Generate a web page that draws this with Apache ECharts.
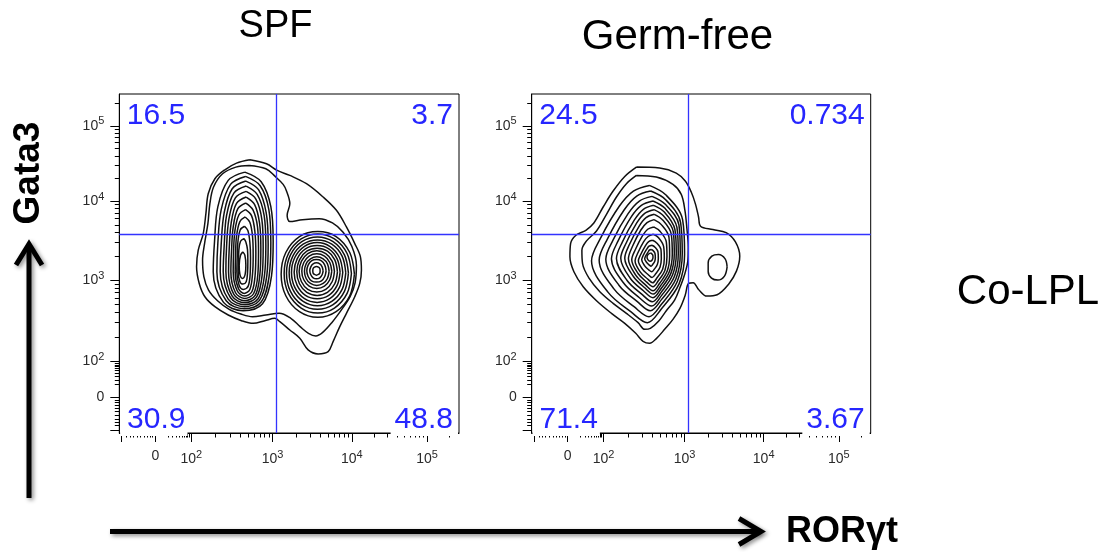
<!DOCTYPE html>
<html>
<head>
<meta charset="utf-8">
<script src="https://cdn.jsdelivr.net/npm/echarts@6/dist/echarts.min.js"></script>
<style>
  html, body { margin: 0; padding: 0; background: #fff; }
  #chart { width: 1104px; height: 552px; }
</style>
</head>
<body>
<div id="chart"></div>
<script>
// axis scale is in display channels (0..1020), the biexponential display of the cytometer
const majorTicks = [7, 108, 216, 460, 698, 924]
const labelTicks = [108, 216, 460, 698, 924]
const labelText = ['0', '10^2', '10^3', '10^4', '10^5']
const linearTicks = [22, 32, 42, 54, 64, 74, 84, 92, 100, 147, 160, 170, 180, 188, 194, 200, 205, 210]

const panelTitles = ['SPF', 'Germ-free']
const gateX = 470
const gateY = 598
// quadrant percentages: upper-left, upper-right, lower-left, lower-right
const spfQuad = ['16.5', '3.7', '30.9', '48.8']
const gfQuad = ['24.5', '0.734', '71.4', '3.67']

// SPF contours (x = RORγt channel, y = Gata3 channel)
const spfOuter = [[392,822],[442,810],[474,790],[512,775],[562,750],[612,710],[652,670],[682,620],[707,570],[724,530],[727,490],[722,450],[707,410],[682,360],[662,320],[642,275],[627,245],[597,238],[567,250],[542,285],[512,310],[482,335],[467,345],[437,338],[402,330],[367,338],[327,355],[287,380],[257,410],[240,450],[232,500],[237,550],[252,600],[260,660],[267,720],[287,765],[317,792],[352,812]]
const spfRing2 = [[390,805],[440,795],[468,772],[492,748],[502,728],[512,690],[504,655],[512,636],[550,642],[600,645],[640,632],[672,604],[698,562],[712,505],[708,452],[693,410],[668,372],[638,332],[610,302],[590,292],[568,300],[543,320],[515,345],[480,360],[440,355],[400,350],[365,358],[330,372],[295,398],[268,430],[254,470],[250,520],[256,570],[266,630],[272,690],[283,740],[310,780],[350,800]]
const spfLeftLobe = [
  [[377,785],[426,756],[455,681],[462,577],[457,472],[430,389],[372,368],[313,393],[282,485],[286,577],[296,681],[327,760]],
  [[379,772],[423,744],[449,672],[455,573],[450,473],[426,394],[374,374],[321,398],[293,485],[296,573],[306,672],[334,748]],
  [[380,758],[418,732],[441,663],[447,569],[443,474],[421,399],[375,380],[327,403],[303,486],[306,569],[315,663],[339,735]],
  [[381,743],[414,718],[435,654],[440,564],[436,475],[417,404],[376,386],[334,407],[312,486],[315,564],[322,654],[344,722]],
  [[381,727],[410,704],[428,643],[432,559],[429,476],[412,409],[376,392],[339,412],[320,486],[322,559],[329,643],[348,707]],
  [[381,710],[406,688],[421,632],[425,554],[422,476],[408,414],[376,398],[344,417],[328,485],[330,554],[336,632],[352,691]],
  [[380,692],[401,672],[415,620],[418,548],[416,477],[403,419],[376,405],[349,422],[335,485],[337,548],[342,620],[356,675]],
  [[379,672],[397,654],[407,607],[410,542],[408,477],[398,425],[376,412],[354,428],[342,485],[343,542],[347,607],[359,656]],
  [[378,650],[392,634],[400,592],[402,535],[400,478],[392,432],[375,420],[358,434],[348,484],[349,535],[352,592],[362,636]],
  [[376,622],[386,609],[392,574],[394,527],[393,480],[387,442],[373,432],[360,444],[353,485],[354,527],[356,574],[363,611]],
  [[374,585],[380,575],[385,551],[386,516],[385,482],[381,455],[371,448],[362,456],[357,486],[358,516],[359,551],[364,577]],
  [[371,545],[377,535],[380,505],[378,478],[370,465],[362,478],[360,505],[364,535]]
]
const spfRightLobe = [
  [[706,478],[692,543],[651,591],[596,606],[541,591],[500,543],[486,478],[500,413],[541,365],[596,348],[651,365],[692,413]],
  [[697,480],[684,540],[646,584],[596,599],[546,584],[508,540],[495,480],[508,420],[546,376],[596,361],[646,376],[684,420]],
  [[688,481],[676,536],[642,576],[595,590],[548,576],[514,536],[502,481],[514,426],[548,386],[595,372],[642,386],[676,426]],
  [[680,482],[669,532],[638,568],[595,581],[552,568],[521,532],[510,482],[521,432],[552,396],[595,383],[638,396],[669,432]],
  [[671,483],[661,528],[633,561],[594,573],[555,561],[527,528],[517,483],[527,438],[555,405],[594,393],[633,405],[661,438]],
  [[663,484],[654,524],[629,554],[594,564],[559,554],[534,524],[525,484],[534,444],[559,414],[594,404],[629,414],[654,444]],
  [[655,485],[647,521],[625,547],[594,556],[563,547],[541,521],[533,485],[541,449],[563,423],[594,414],[625,423],[647,449]],
  [[646,486],[639,517],[620,540],[593,548],[566,540],[547,517],[540,486],[547,455],[566,432],[593,424],[620,432],[639,455]],
  [[638,487],[632,513],[616,532],[593,539],[570,532],[554,513],[548,487],[554,461],[570,442],[593,435],[616,442],[632,461]],
  [[630,487],[625,509],[612,524],[593,530],[574,524],[561,509],[556,487],[561,465],[574,450],[593,444],[612,450],[625,465]],
  [[621,488],[617,505],[607,518],[592,522],[577,518],[567,505],[563,488],[567,471],[577,458],[592,454],[607,458],[617,471]],
  [[612,488],[609,500],[602,509],[592,512],[582,509],[575,500],[572,488],[575,476],[582,467],[592,464],[602,467],[609,476]],
  [[603,488],[602,495],[598,499],[592,501],[586,499],[582,495],[581,488],[582,481],[586,477],[592,475],[598,477],[602,481]]
]

// Germ-free contours
const gfOuter = [[315,800],[385,797],[435,782],[462,758],[480,725],[493,688],[502,650],[508,622],[545,612],[585,603],[613,575],[626,532],[616,487],[592,447],[558,416],[527,412],[502,432],[486,452],[472,450],[462,415],[446,375],[425,342],[400,312],[375,284],[355,270],[335,276],[313,300],[280,330],[240,360],[195,398],[155,440],[127,485],[115,530],[117,570],[133,595],[163,610],[187,632],[215,680],[245,728],[280,772]]
const gfRing2 = [[315,775],[375,770],[425,748],[450,718],[461,670],[467,615],[471,560],[470,520],[461,480],[447,440],[430,400],[405,368],[383,338],[357,315],[340,312],[320,332],[285,360],[245,390],[205,425],[173,465],[153,510],[151,550],[165,578],[195,608],[225,658],[255,710],[285,750]]
const gfIsland = [[588,500],[582,524],[562,537],[542,532],[531,512],[531,486],[541,466],[560,460],[580,472]]
const gfCore = [
  [[354,745],[404,716],[454,642],[460,538],[443,448],[390,373],[348,332],[298,365],[230,423],[180,518],[208,588],[264,683],[306,728]],
  [[358,728],[403,702],[448,633],[453,539],[438,456],[391,388],[353,350],[308,380],[248,433],[203,520],[228,584],[278,671],[316,713]],
  [[362,712],[402,688],[443,626],[447,540],[434,464],[391,402],[357,368],[317,396],[263,444],[223,523],[245,581],[290,660],[324,698]],
  [[365,698],[401,676],[437,619],[441,540],[429,470],[391,414],[361,382],[324,407],[276,452],[240,524],[260,578],[300,651],[330,685]],
  [[367,685],[399,665],[431,612],[435,540],[424,476],[390,424],[363,395],[331,418],[287,459],[255,525],[273,575],[309,641],[336,673]],
  [[368,672],[397,653],[426,606],[429,540],[419,481],[389,434],[365,407],[336,428],[297,465],[268,526],[284,571],[316,632],[340,661]],
  [[369,658],[394,641],[420,598],[423,538],[414,485],[387,442],[366,418],[340,437],[306,471],[280,526],[294,567],[323,622],[344,648]],
  [[368,642],[390,627],[413,589],[415,535],[408,488],[384,449],[365,428],[343,445],[313,475],[291,524],[303,561],[328,610],[347,633]],
  [[367,620],[386,607],[405,575],[407,530],[401,490],[381,458],[365,440],[346,454],[320,480],[301,521],[312,552],[333,593],[349,613]],
  [[366,598],[381,588],[397,561],[399,525],[394,493],[377,467],[364,452],[348,464],[327,484],[311,518],[320,543],[337,576],[351,592]],
  [[364,580],[376,572],[389,552],[390,524],[386,499],[373,479],[362,468],[350,477],[333,493],[321,518],[328,537],[342,563],[352,576]],
  [[362,565],[371,559],[380,545],[381,525],[378,507],[369,493],[361,485],[352,491],[340,503],[331,521],[336,535],[346,553],[353,562]],
  [[360,552],[366,548],[371,540],[372,527],[370,516],[364,507],[359,502],[353,506],[346,513],[340,524],[343,533],[350,544],[354,550]],
  [[358,542],[364,536],[365,529],[362,520],[356,517],[350,521],[347,529],[350,537]]
]

const FONT = '"Liberation Sans", Arial, Helvetica, sans-serif'
const AXIS_MAX = 1020
const panels = [
  { left: 119.3, top: 94, width: 339.7, height: 339, quad: spfQuad, title: panelTitles[0], titleSize: 38, titleX: 275.5, titleY: 27, contours: [spfOuter, spfRing2].concat(spfLeftLobe, spfRightLobe) },
  { left: 531.7, top: 94, width: 339, height: 339, quad: gfQuad, title: panelTitles[1], titleSize: 42, titleX: 677.5, titleY: 37, contours: [gfOuter, gfRing2, gfIsland].concat(gfCore) }
]

// minor ticks: linear region near zero plus log spacing inside each decade
const minorTicks = linearTicks.slice()
for (let i = 1; i < labelTicks.length; i++) {
  const a = labelTicks[i]
  const span = i < labelTicks.length - 1 ? labelTicks[i + 1] - a : a - labelTicks[i - 1]
  for (let k = 2; k <= 9; k++) {
    const v = a + span * Math.log10(k)
    if (v < AXIS_MAX) minorTicks.push(Math.round(v * 10) / 10)
  }
}

const tickRich = {
  b: { fontSize: 14, color: '#2a2a2a', fontFamily: FONT },
  s: { fontSize: 11, color: '#2a2a2a', fontFamily: FONT, padding: [0, 0, 9, 0] }
}
const tickFmt = v => {
  const i = labelTicks.indexOf(v)
  if (i < 0) return ''
  const t = labelText[i]
  if (t.indexOf('^') < 0) return '{b|' + t + '}'
  const parts = t.split('^')
  return '{b|' + parts[0] + '}{s|' + parts[1] + '}'
}

const makeAxis = (dim, gridIndex, major) => {
  const base = {
    type: 'value',
    gridIndex: gridIndex,
    min: 0,
    max: AXIS_MAX,
    position: dim === 'x' ? 'bottom' : 'left',
    splitLine: { show: false },
    silent: true
  }
  if (major) {
    return Object.assign(base, {
      axisLine: { show: true, onZero: false, lineStyle: { color: '#000', width: 1 } },
      axisTick: { show: true, customValues: majorTicks, length: 9, lineStyle: { color: '#000', width: 1 } },
      axisLabel: {
        show: true,
        customValues: labelTicks,
        formatter: tickFmt,
        rich: tickRich,
        margin: dim === 'x' ? 16 : 15
      }
    })
  }
  return Object.assign(base, {
    axisLine: { show: false, onZero: false },
    axisTick: { show: true, customValues: minorTicks, length: 4.5, lineStyle: { color: '#000', width: 1 } },
    axisLabel: { show: false }
  })
}

const grids = []
const xAxes = []
const yAxes = []
const series = []
const graphics = []

panels.forEach((p, gi) => {
  grids.push({ left: p.left, top: p.top, width: p.width, height: p.height, show: true, borderColor: '#000', borderWidth: 1, backgroundColor: 'transparent' })
  xAxes.push(makeAxis('x', gi, true), makeAxis('x', gi, false))
  yAxes.push(makeAxis('y', gi, true), makeAxis('y', gi, false))

  p.contours.forEach(ring => {
    series.push({
      type: 'line',
      xAxisIndex: gi * 2,
      yAxisIndex: gi * 2,
      data: ring.concat([ring[0]]),
      smooth: 0.35,
      symbol: 'none',
      showSymbol: false,
      silent: true,
      animation: false,
      lineStyle: { color: '#111', width: 1.5 },
      z: 2
    })
  })

  // quadrant gates
  series.push({
    type: 'line',
    xAxisIndex: gi * 2,
    yAxisIndex: gi * 2,
    data: [],
    z: 5,
    silent: true,
    markLine: {
      silent: true,
      symbol: ['none', 'none'],
      animation: false,
      label: { show: false },
      lineStyle: { color: '#3333ff', width: 1.3, type: 'solid' },
      data: [{ xAxis: gateX }, { yAxis: gateY }]
    }
  })

  const right = p.left + p.width
  const bottom = p.top + p.height
  const qFont = '30px ' + FONT
  const qColor = '#2626ff'
  const quadPos = [
    { x: p.left + 7.5, y: p.top + 22, align: 'left', pad: [0, 0, 0, 0] },
    { x: right - 6, y: p.top + 22, align: 'right', pad: [0, 0, 0, 0] },
    { x: p.left + 0.8, y: bottom - 13.5, align: 'left', pad: [0, 2, 3, 7] },
    { x: right - 1, y: bottom - 13.5, align: 'right', pad: [0, 5, 3, 4] }
  ]
  quadPos.forEach((q, qi) => {
    graphics.push({
      type: 'text',
      x: q.x,
      y: q.y,
      z: 100,
      silent: true,
      style: {
        text: p.quad[qi],
        font: qFont,
        fill: qColor,
        align: q.align,
        verticalAlign: 'middle',
        textAlign: q.align,
        textVerticalAlign: 'middle',
        backgroundColor: '#fff',
        padding: q.pad
      }
    })
  })

  graphics.push({
    type: 'text', x: p.titleX, y: p.titleY, silent: true,
    style: { text: p.title, font: p.titleSize + 'px ' + FONT, fill: '#000', align: 'center', verticalAlign: 'middle', textAlign: 'center', textVerticalAlign: 'middle' }
  })
})

const shadow = { shadowBlur: 4, shadowColor: 'rgba(0,0,0,0.45)', shadowOffsetX: 2, shadowOffsetY: 2 }

graphics.push(
  {
    type: 'text', x: 1028, y: 292, silent: true,
    style: { text: 'Co-LPL', font: '42px ' + FONT, fill: '#000', align: 'center', verticalAlign: 'middle', textAlign: 'center', textVerticalAlign: 'middle' }
  },
  {
    type: 'text', x: 29, y: 173, rotation: Math.PI / 2, silent: true,
    style: { text: 'Gata3', font: 'bold 37px ' + FONT, fill: '#000', align: 'center', verticalAlign: 'middle', textAlign: 'center', textVerticalAlign: 'middle' }
  },
  {
    type: 'text', x: 842, y: 532, silent: true,
    style: { text: 'RORγt', font: 'bold 36px ' + FONT, fill: '#000', align: 'center', verticalAlign: 'middle', textAlign: 'center', textVerticalAlign: 'middle' }
  },
  {
    type: 'line', silent: true,
    shape: { x1: 29, y1: 498, x2: 29, y2: 247 },
    style: Object.assign({ stroke: '#000', lineWidth: 5 }, shadow)
  },
  {
    type: 'polyline', silent: true,
    shape: { points: [[16, 265], [29, 244], [42, 265]] },
    style: Object.assign({ stroke: '#000', fill: null, lineWidth: 5, lineJoin: 'miter' }, shadow)
  },
  {
    type: 'line', silent: true,
    shape: { x1: 110, y1: 531.5, x2: 759, y2: 531.5 },
    style: Object.assign({ stroke: '#000', lineWidth: 5 }, shadow)
  },
  {
    type: 'polyline', silent: true,
    shape: { points: [[739, 518.5], [761, 531.5], [739, 544.5]] },
    style: Object.assign({ stroke: '#000', fill: null, lineWidth: 5, lineJoin: 'miter' }, shadow)
  }
)

const chart = echarts.init(document.getElementById('chart'), null, { renderer: 'canvas' })
chart.setOption({
  animation: false,
  backgroundColor: '#fff',
  textStyle: { fontFamily: FONT },
  grid: grids,
  xAxis: xAxes,
  yAxis: yAxes,
  series: series,
  graphic: { elements: graphics }
})
</script>
</body>
</html>
